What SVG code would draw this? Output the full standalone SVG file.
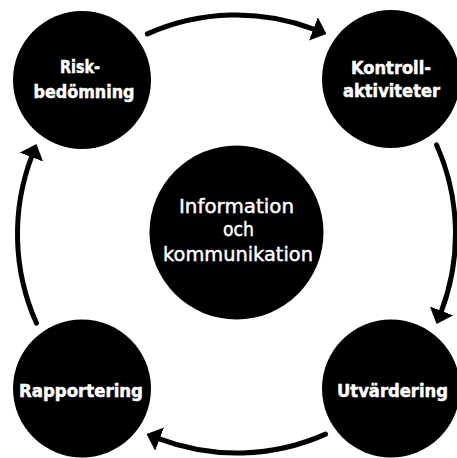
<svg xmlns="http://www.w3.org/2000/svg" width="457" height="458" viewBox="0 0 457 458">
<style>
.node{fill:#000}
.lbl{fill:#fff;stroke:#fff;stroke-width:0.5;font-family:"DejaVu Sans","Liberation Sans",sans-serif;font-weight:bold;font-size:17.5px;text-anchor:middle}
.ctr{fill:#fff;stroke:#fff;stroke-width:0.45;font-family:"DejaVu Sans","Liberation Sans",sans-serif;font-size:20px;text-anchor:middle}
.arc{fill:none;stroke:#000;stroke-width:5;stroke-linecap:round}
</style>
<defs>
<marker id="ah" markerUnits="userSpaceOnUse" viewBox="0 0 14 25" markerWidth="14" markerHeight="25" refX="1" refY="12.5" orient="auto">
<path d="M0,0 L14,12.5 L0,25 Z" fill="#000"/>
</marker>
</defs>
<rect width="457" height="458" fill="#fff"/>
<g id="connectors">
<path class="arc" marker-end="url(#ah)" d="M147.4,33.9 A219,219 0 0 1 314.3,29.3"/>
<path class="arc" marker-end="url(#ah)" d="M147.4,33.9 A219,219 0 0 1 314.3,29.3" transform="rotate(90 236.5 234)"/>
<path class="arc" marker-end="url(#ah)" d="M147.4,33.9 A219,219 0 0 1 314.3,29.3" transform="rotate(180 236.5 234)"/>
<path class="arc" marker-end="url(#ah)" d="M147.4,33.9 A219,219 0 0 1 314.3,29.3" transform="rotate(270 236.5 234)"/>
</g>
<g id="riskbedomning">
<circle class="node" cx="82" cy="80" r="69"/>
<text class="lbl" x="80" y="72.5" textLength="40" lengthAdjust="spacingAndGlyphs">Risk-</text>
<text class="lbl" x="84" y="97.5" textLength="101" lengthAdjust="spacingAndGlyphs">bedömning</text>
</g>
<g id="kontrollaktiviteter">
<circle class="node" cx="391" cy="79" r="69"/>
<text class="lbl" x="391" y="74" textLength="80" lengthAdjust="spacingAndGlyphs">Kontroll-</text>
<text class="lbl" x="391.5" y="97" textLength="97" lengthAdjust="spacingAndGlyphs">aktiviteter</text>
</g>
<g id="rapportering">
<circle class="node" cx="82" cy="388.5" r="69"/>
<text class="lbl" x="81" y="397" textLength="124" lengthAdjust="spacingAndGlyphs">Rapportering</text>
</g>
<g id="utvardering">
<circle class="node" cx="391" cy="388.5" r="69"/>
<text class="lbl" x="392.5" y="397" textLength="111" lengthAdjust="spacingAndGlyphs">Utvärdering</text>
</g>
<g id="information">
<circle class="node" cx="236.5" cy="232.5" r="87"/>
<text class="ctr" x="236.5" y="213" textLength="115" lengthAdjust="spacingAndGlyphs">Information</text>
<text class="ctr" x="238.5" y="236" textLength="31" lengthAdjust="spacingAndGlyphs">och</text>
<text class="ctr" x="238" y="261" textLength="150" lengthAdjust="spacingAndGlyphs">kommunikation</text>
</g>
</svg>
